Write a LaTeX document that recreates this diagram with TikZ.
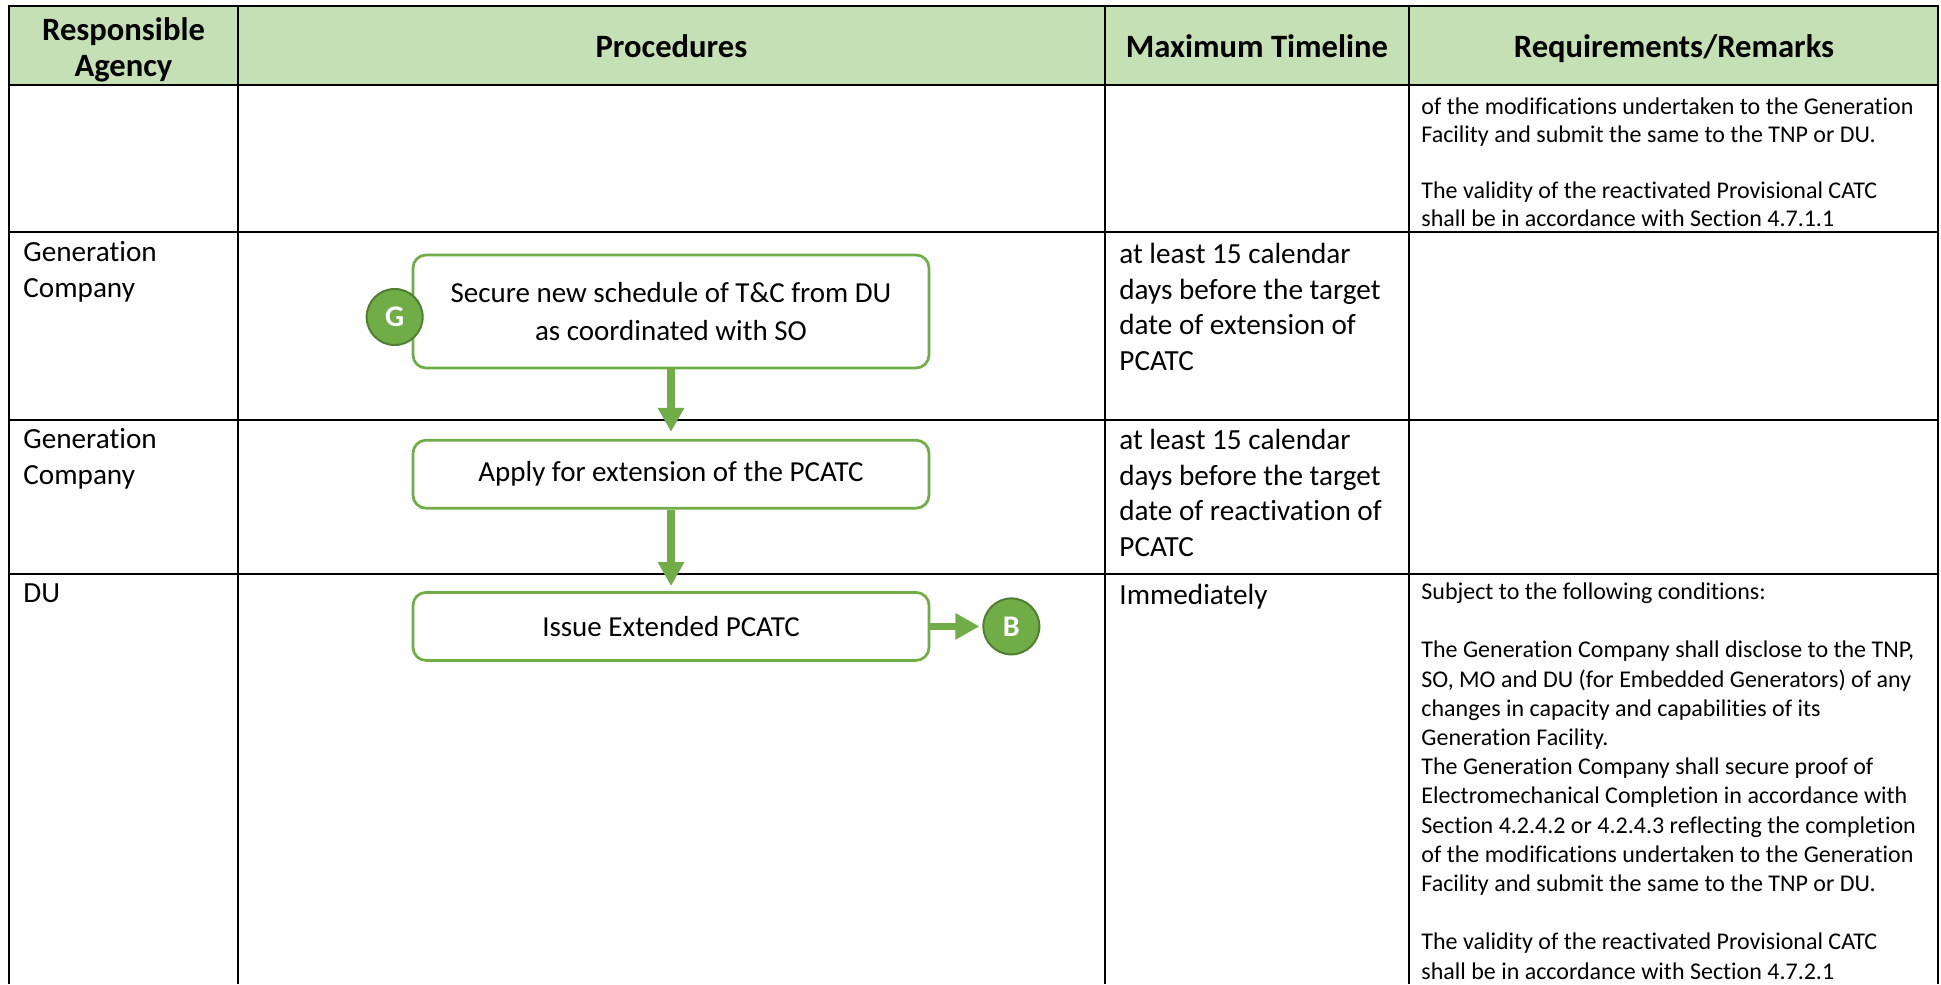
\documentclass[tikz,border=0pt]{standalone}
\usepackage{fontspec}
\setmainfont{Carlito}[Ligatures=NoCommon]
\usepackage{tikz}
\usetikzlibrary{positioning}
\usetikzlibrary{arrows.meta}
\definecolor{headgreen}{HTML}{C5E0B4}
\definecolor{flowgreen}{HTML}{70AD47}
\definecolor{darkgreen}{HTML}{507E32}
\tikzset{>=latex}
\tikzset{
  tableline/.style={line width=1pt},
  procbox/.style={draw=flowgreen, line width=1.35pt, rounded corners=6.5pt, minimum width=258pt, align=center, inner sep=0pt, font=\fontsize{14.5}{19}\selectfont},
  linkcircle/.style={circle, fill=flowgreen, draw=darkgreen, line width=1pt, minimum size=28pt, inner sep=0pt, text=white, font=\fontsize{15}{17}\selectfont\bfseries},
  flow/.style={draw=flowgreen, line width=3.65pt, -{Triangle[width=12.5pt,length=12pt]}},
  headtext/.style={font=\fontsize{16.3}{18.3}\selectfont\bfseries, align=center, inner sep=0pt},
  celltext/.style={font=\fontsize{14.6}{17.75}\selectfont, align=left, inner sep=0pt, anchor=north west},
  remarktext/.style={font=\fontsize{12}{14.6}\selectfont, align=left, inner sep=0pt, anchor=north west}
}

\begin{document}
\begin{tikzpicture}[x=0.5pt, y=-0.5pt]
      \useasboundingbox (0,0) rectangle (1941,984);
      \filldraw[tableline, fill=headgreen] (9,6) rectangle (1938,85);
      \draw[tableline] (9,85) -- (9,984);
      \draw[tableline] (1938,85) -- (1938,984);
      \draw[tableline] (238,6) -- (238,984);
      \draw[tableline] (1105,6) -- (1105,984);
      \draw[tableline] (1409,6) -- (1409,984);
      \draw[tableline] (9,232) -- (1938,232);
      \draw[tableline] (9,420) -- (1938,420);
      \draw[tableline] (9,574) -- (1938,574);

      \node[headtext, anchor=north] (hagency) at (123.5,17) {Responsible\\Agency};
      \node[headtext, anchor=base] (hproc) at (671.5,57.5) {Procedures};
      \node[headtext, anchor=base] (htime) at (1257,57.5) {Maximum Timeline};
      \node[headtext, anchor=base] (hremark) at (1674,57.5) {Requirements/Remarks};

      \node[remarktext, font=\fontsize{12}{14.1}\selectfont] (remarkA) at (1421,97) {of the modifications undertaken to the Generation\\
        Facility and submit the same to the TNP or DU.\\[14.1pt]
        The validity of the reactivated Provisional CATC\\
        shall be in accordance with Section 4.7.1.1};

      \node[celltext] (agencyB) at (23,241.5) {Generation\\Company};
      \node[celltext] (timeB) at (1119,243) {at least 15 calendar\\days before the target\\date of extension of\\PCATC};

      \node[celltext] (agencyC) at (23,428.5) {Generation\\Company};
      \node[celltext] (timeC) at (1119,429) {at least 15 calendar\\days before the target\\date of reactivation of\\PCATC};

      \node[celltext] (agencyD) at (23,583.5) {DU};
      \node[celltext] (timeD) at (1119,583.5) {Immediately};
      \node[remarktext] (remarkD) at (1421,582.5) {Subject to the following conditions:\\[14.6pt]
        The Generation Company shall disclose to the TNP,\\
        SO, MO and DU (for Embedded Generators) of any\\
        changes in capacity and capabilities of its\\
        Generation Facility.\\
        The Generation Company shall secure proof of\\
        Electromechanical Completion in accordance with\\
        Section 4.2.4.2 or 4.2.4.3 reflecting the completion\\
        of the modifications undertaken to the Generation\\
        Facility and submit the same to the TNP or DU.\\[14.6pt]
        The validity of the reactivated Provisional CATC\\
        shall be in accordance with Section 4.7.2.1};

      \node[procbox, minimum height=56.5pt] (secure) at (671,311.5) {Secure new schedule of T\&C from DU\\as coordinated with SO};
      \node[procbox, minimum height=34pt, below=34.75pt of secure] (apply) {Apply for extension of the PCATC};
      \node[procbox, minimum height=34pt, below=40.75pt of apply] (issue) {Issue Extended PCATC};
      \node[linkcircle] (gstart) at ([shift={(-17,5.5)}]secure.west) {G};
      \node[linkcircle, right=26pt of issue] (bnext) {B};

      \draw[flow, shorten >=3.5pt] (secure) -- (apply);
      \draw[flow, shorten >=2.5pt] (apply) -- (issue);
      \draw[flow, shorten >=1.5pt] (issue) -- (bnext);
    \end{tikzpicture}
\end{document}
